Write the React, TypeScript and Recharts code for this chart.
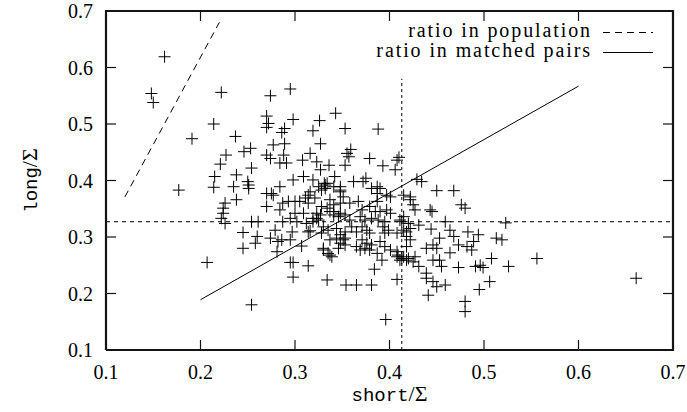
import React from 'react';
import { ScatterChart, Scatter, XAxis, YAxis, ReferenceLine } from 'recharts';

const axisTicks = [0.1, 0.2, 0.3, 0.4, 0.5, 0.6, 0.7];
const axisDomain: [number, number] = [0.1, 0.7];
const meanShort = 0.413;
const meanLong = 0.327;
const meanShortTop = 0.58;
const populationLine = [{ x: 0.12, y: 0.371 }, { x: 0.22, y: 0.68 }];
const matchedLine = [{ x: 0.2, y: 0.189 }, { x: 0.6, y: 0.567 }];
const legendLabels = ['ratio in population', 'ratio in matched pairs'];
const legendDashes = ['7 5', undefined];

const pairs: [number, number][] = [
  [0.162,0.619],[0.148,0.554],[0.150,0.538],[0.222,0.556],[0.274,0.550],[0.295,0.562],
  [0.214,0.500],[0.270,0.514],[0.272,0.501],[0.270,0.494],[0.298,0.508],[0.326,0.506],
  [0.343,0.519],[0.353,0.492],[0.319,0.488],[0.286,0.485],[0.289,0.492],[0.327,0.465],
  [0.191,0.474],[0.237,0.478],[0.246,0.451],[0.253,0.457],[0.227,0.445],[0.221,0.429],
  [0.215,0.407],[0.214,0.388],[0.177,0.383],[0.238,0.410],[0.235,0.389],[0.250,0.398],
  [0.254,0.422],[0.270,0.445],[0.274,0.439],[0.277,0.463],[0.288,0.445],[0.284,0.431],
  [0.291,0.431],[0.289,0.465],[0.308,0.436],[0.316,0.448],[0.323,0.433],[0.336,0.427],
  [0.327,0.419],[0.353,0.427],[0.355,0.448],[0.298,0.401],[0.309,0.407],[0.319,0.401],
  [0.331,0.395],[0.284,0.389],[0.275,0.377],[0.316,0.380],[0.342,0.407],[0.348,0.383],
  [0.388,0.491],[0.359,0.455],[0.357,0.442],[0.379,0.439],[0.393,0.426],[0.408,0.436],
  [0.410,0.441],[0.406,0.419],[0.362,0.398],[0.375,0.404],[0.372,0.398],[0.387,0.389],
  [0.325,0.389],[0.332,0.392],[0.348,0.389],[0.429,0.402],[0.434,0.398],[0.450,0.382],
  [0.468,0.382],[0.422,0.371],[0.476,0.357],[0.480,0.351],[0.443,0.348],[0.445,0.345],
  [0.415,0.374],[0.422,0.366],[0.425,0.357],[0.427,0.348],[0.415,0.336],[0.413,0.327],
  [0.431,0.321],[0.422,0.315],[0.418,0.309],[0.444,0.314],[0.459,0.327],[0.464,0.312],
  [0.468,0.301],[0.483,0.309],[0.494,0.304],[0.489,0.292],[0.513,0.298],[0.519,0.295],
  [0.523,0.325],[0.453,0.298],[0.446,0.286],[0.450,0.280],[0.439,0.280],[0.473,0.286],
  [0.482,0.283],[0.487,0.277],[0.464,0.272],[0.453,0.259],[0.446,0.259],[0.455,0.248],
  [0.473,0.246],[0.491,0.248],[0.496,0.250],[0.499,0.246],[0.508,0.262],[0.526,0.248],
  [0.556,0.262],[0.415,0.265],[0.420,0.262],[0.427,0.265],[0.425,0.256],[0.431,0.248],
  [0.439,0.236],[0.439,0.227],[0.446,0.221],[0.450,0.212],[0.459,0.215],[0.441,0.197],
  [0.480,0.186],[0.495,0.207],[0.506,0.221],[0.418,0.283],[0.422,0.295],[0.661,0.227],
  [0.480,0.168],[0.396,0.154],[0.354,0.215],[0.365,0.215],[0.381,0.215],[0.408,0.225],
  [0.384,0.243],[0.392,0.259],[0.408,0.265],[0.411,0.259],[0.207,0.255],[0.254,0.180],
  [0.295,0.255],[0.298,0.255],[0.314,0.249],[0.298,0.229],[0.334,0.224],[0.245,0.280],
  [0.245,0.308],[0.258,0.289],[0.260,0.301],[0.222,0.333],[0.226,0.324],[0.226,0.360],
  [0.224,0.351],[0.238,0.366],[0.254,0.327],[0.261,0.327],[0.270,0.354],[0.274,0.298],
  [0.281,0.274],[0.279,0.312],[0.286,0.295],[0.295,0.295],[0.287,0.327],[0.295,0.333],
  [0.287,0.360],[0.293,0.363],[0.297,0.309],[0.307,0.284],[0.316,0.311],[0.305,0.363],
  [0.314,0.360],[0.323,0.333],[0.327,0.339],[0.319,0.327],[0.334,0.351],[0.341,0.345],
  [0.346,0.336],[0.348,0.360],[0.330,0.280],[0.337,0.268],[0.344,0.298],[0.348,0.289],
  [0.351,0.295],[0.344,0.315],[0.353,0.309],[0.251,0.392],[0.251,0.386],[0.224,0.342],
  [0.270,0.377],[0.277,0.374],[0.284,0.348],[0.300,0.363],[0.282,0.292],[0.332,0.386],
  [0.328,0.383],[0.334,0.395],[0.341,0.389],[0.348,0.380],[0.351,0.371],[0.381,0.386],
  [0.387,0.377],[0.390,0.386],[0.397,0.374],[0.401,0.371],[0.314,0.374],[0.311,0.369],
  [0.321,0.369],[0.337,0.366],[0.341,0.357],[0.328,0.354],[0.358,0.360],[0.367,0.363],
  [0.371,0.348],[0.379,0.354],[0.387,0.363],[0.390,0.345],[0.385,0.345],[0.397,0.348],
  [0.401,0.342],[0.300,0.342],[0.309,0.342],[0.302,0.327],[0.323,0.342],[0.319,0.333],
  [0.325,0.330],[0.337,0.345],[0.341,0.339],[0.348,0.342],[0.353,0.339],[0.358,0.330],
  [0.369,0.336],[0.374,0.330],[0.371,0.318],[0.381,0.333],[0.388,0.330],[0.395,0.327],
  [0.411,0.330],[0.420,0.324],[0.312,0.324],[0.314,0.309],[0.330,0.318],[0.335,0.312],
  [0.328,0.307],[0.348,0.304],[0.353,0.298],[0.360,0.318],[0.365,0.309],[0.376,0.312],
  [0.379,0.307],[0.393,0.318],[0.399,0.312],[0.395,0.307],[0.408,0.307],[0.415,0.312],
  [0.418,0.301],[0.337,0.295],[0.353,0.286],[0.346,0.280],[0.371,0.295],[0.376,0.289],
  [0.381,0.286],[0.365,0.283],[0.369,0.277],[0.374,0.280],[0.390,0.292],[0.395,0.283],
  [0.401,0.277],[0.408,0.274],[0.387,0.271],[0.379,0.277],[0.330,0.277],[0.335,0.271],
  [0.339,0.265],[0.409,0.268],[0.413,0.262],[0.418,0.259],
];

const points = pairs.map(([x, y]) => ({ x, y }));
const [lo, hi] = axisDomain;
const frame = [{ x: lo, y: lo }, { x: hi, y: lo }, { x: hi, y: hi }, { x: lo, y: hi }, { x: lo, y: lo }];
const bottomTicks = axisTicks.map((t) => ({ x: t, y: lo }));
const topTicks = axisTicks.map((t) => ({ x: t, y: hi }));
const leftTicks = axisTicks.map((t) => ({ x: lo, y: t }));
const rightTicks = axisTicks.map((t) => ({ x: hi, y: t }));

const INK = '#141414';
const SERIF = '"Liberation Serif", "DejaVu Serif", serif';
const MONO = '"Liberation Mono", "DejaVu Sans Mono", monospace';
const TL = 10;

const Cross = (props: any) => {
  const { cx, cy } = props;
  return (
    <path d={`M${cx - 6},${cy}H${cx + 6}M${cx},${cy - 6}V${cy + 6}`} stroke="#000" strokeWidth={1} fill="none" />
  );
};

const tickMark = (dx: number, dy: number) => (props: any) => {
  const { cx, cy } = props;
  return <path d={`M${cx},${cy}L${cx + dx},${cy + dy}`} stroke={INK} strokeWidth={1.2} fill="none" />;
};
const UpMark = tickMark(0, -TL);
const DownMark = tickMark(0, TL);
const RightMark = tickMark(TL, 0);
const LeftMark = tickMark(-TL, 0);
const NoShape = () => <g />;

const BottomTick = (props: any) => {
  const { x, y, payload } = props;
  return (
    <text x={Number(x)} y={Number(y) + 21} textAnchor="middle" fontFamily={SERIF} fontSize={20} fill="#000">
      {Number(payload.value).toFixed(1)}
    </text>
  );
};

const LeftTick = (props: any) => {
  const { x, y, payload } = props;
  return (
    <text x={Number(x) - 5} y={Number(y) + 7} textAnchor="end" fontFamily={SERIF} fontSize={20} fill="#000">
      {Number(payload.value).toFixed(1)}
    </text>
  );
};

const XLabel = (props: any) => {
  const vb = props.viewBox || {};
  const cx = vb.x + vb.width / 2;
  return (
    <text x={cx} y={vb.y + 51} textAnchor="middle" fill="#000">
      <tspan fontFamily={MONO} fontSize={19}>short</tspan>
      <tspan fontFamily={SERIF} fontSize={22}>/Σ</tspan>
    </text>
  );
};

const YLabel = (props: any) => {
  const vb = props.viewBox || {};
  const cy = vb.y + vb.height / 2;
  const cx = 31;
  return (
    <text x={cx} y={cy} textAnchor="middle" fill="#000" transform={`rotate(-90, ${cx}, ${cy})`} dy={6}>
      <tspan fontFamily={MONO} fontSize={19}>long</tspan>
      <tspan fontFamily={SERIF} fontSize={22}>/Σ</tspan>
    </text>
  );
};

const LegendBox = () => (
  <svg width={290} height={52} style={{ position: 'absolute', left: 363, top: 15, display: 'block' }}>
    {legendLabels.map((label, i) => (
      <g key={label}>
        <text x={229} y={22 + i * 20} textAnchor="end" fontFamily={SERIF} fontSize={20} letterSpacing={1.9} fill="#000">
          {label}
        </text>
        <path d={`M240,${17.5 + i * 20}H290`} stroke="#000" strokeWidth={1} strokeDasharray={legendDashes[i]} />
      </g>
    ))}
  </svg>
);

export default function App() {
  return (
    <div style={{ position: 'absolute', left: 0, top: 0, width: 687, height: 412, background: '#fff' }}>
      <ScatterChart width={687} height={412} margin={{ top: 11, right: 14, bottom: 0, left: 0 }}>
        <XAxis
          dataKey="x"
          type="number"
          domain={axisDomain}
          ticks={axisTicks}
          height={62}
          axisLine={{ stroke: INK, strokeWidth: 2 }}
          tickLine={false}
          tick={BottomTick}
          label={XLabel}
        />
        <YAxis
          dataKey="y"
          type="number"
          domain={axisDomain}
          ticks={axisTicks}
          width={106}
          axisLine={{ stroke: INK, strokeWidth: 2 }}
          tickLine={false}
          tick={LeftTick}
          label={YLabel}
        />
        <ReferenceLine y={meanLong} stroke="#000" strokeWidth={1} strokeDasharray="4 4" />
        <ReferenceLine
          segment={[{ x: meanShort, y: lo }, { x: meanShort, y: meanShortTop }]}
          stroke="#000"
          strokeWidth={1}
          strokeDasharray="3 3"
        />
        <Scatter data={frame} line={{ stroke: INK, strokeWidth: 2.2 }} shape={NoShape} isAnimationActive={false} />
        <Scatter data={bottomTicks} shape={UpMark} isAnimationActive={false} />
        <Scatter data={topTicks} shape={DownMark} isAnimationActive={false} />
        <Scatter data={leftTicks} shape={RightMark} isAnimationActive={false} />
        <Scatter data={rightTicks} shape={LeftMark} isAnimationActive={false} />
        <Scatter
          name={legendLabels[0]}
          data={populationLine}
          line={{ stroke: '#000', strokeWidth: 1, strokeDasharray: '7 5' }}
          shape={NoShape}
          isAnimationActive={false}
        />
        <Scatter
          name={legendLabels[1]}
          data={matchedLine}
          line={{ stroke: '#000', strokeWidth: 1 }}
          shape={NoShape}
          isAnimationActive={false}
        />
        <Scatter name="pairs" data={points} shape={Cross} isAnimationActive={false} />
      </ScatterChart>
      <LegendBox />
    </div>
  );
}
